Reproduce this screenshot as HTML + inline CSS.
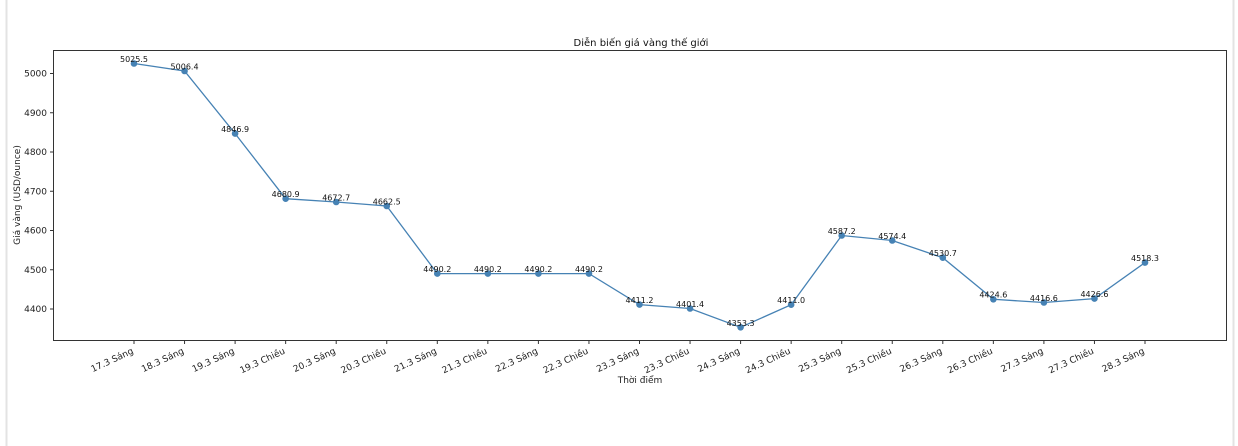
<!DOCTYPE html>
<html><head><meta charset="utf-8"><style>
html,body{margin:0;padding:0;background:#fff;width:1238px;height:446px;overflow:hidden}
svg{display:block;font-family:"DejaVu Sans","Liberation Sans",sans-serif}
</style></head><body>
<svg width="1238" height="446" viewBox="0 0 1238 446" xmlns="http://www.w3.org/2000/svg">
<rect x="0" y="0" width="1238" height="446" fill="#fff"/>
<line x1="6.5" y1="0" x2="6.5" y2="446" stroke="#e3e3e3" stroke-width="2"/>
<line x1="1233.5" y1="0" x2="1233.5" y2="446" stroke="#e3e3e3" stroke-width="2"/>
<text x="641" y="46" font-size="10" text-anchor="middle" fill="#111">Diễn biến giá vàng thế giới</text>
<rect x="53.5" y="50.5" width="1173" height="290" fill="none" stroke="#333" stroke-width="1"/>
<g font-size="9" fill="#222" text-anchor="end">
<line x1="50" y1="309" x2="53" y2="309" stroke="#333"/><text x="47" y="312">4400</text>
<line x1="50" y1="269.75" x2="53" y2="269.75" stroke="#333"/><text x="47" y="272.75">4500</text>
<line x1="50" y1="230.5" x2="53" y2="230.5" stroke="#333"/><text x="47" y="233.5">4600</text>
<line x1="50" y1="191.25" x2="53" y2="191.25" stroke="#333"/><text x="47" y="194.25">4700</text>
<line x1="50" y1="152" x2="53" y2="152" stroke="#333"/><text x="47" y="155">4800</text>
<line x1="50" y1="112.75" x2="53" y2="112.75" stroke="#333"/><text x="47" y="115.75">4900</text>
<line x1="50" y1="73.5" x2="53" y2="73.5" stroke="#333"/><text x="47" y="76.5">5000</text>
</g>
<text transform="translate(20,195) rotate(-90)" font-size="9" text-anchor="middle" fill="#222">Giá vàng (USD/ounce)</text>
<text x="640" y="383" font-size="9" text-anchor="middle" fill="#222">Thời điểm</text>
<g stroke="#333">
<line x1="134" y1="340" x2="134" y2="344"/><line x1="184.55" y1="340" x2="184.55" y2="344"/><line x1="235.1" y1="340" x2="235.1" y2="344"/><line x1="285.65" y1="340" x2="285.65" y2="344"/><line x1="336.2" y1="340" x2="336.2" y2="344"/><line x1="386.75" y1="340" x2="386.75" y2="344"/><line x1="437.3" y1="340" x2="437.3" y2="344"/><line x1="487.85" y1="340" x2="487.85" y2="344"/><line x1="538.4" y1="340" x2="538.4" y2="344"/><line x1="588.95" y1="340" x2="588.95" y2="344"/><line x1="639.5" y1="340" x2="639.5" y2="344"/><line x1="690.05" y1="340" x2="690.05" y2="344"/><line x1="740.6" y1="340" x2="740.6" y2="344"/><line x1="791.15" y1="340" x2="791.15" y2="344"/><line x1="841.7" y1="340" x2="841.7" y2="344"/><line x1="892.25" y1="340" x2="892.25" y2="344"/><line x1="942.8" y1="340" x2="942.8" y2="344"/><line x1="993.35" y1="340" x2="993.35" y2="344"/><line x1="1043.9" y1="340" x2="1043.9" y2="344"/><line x1="1094.45" y1="340" x2="1094.45" y2="344"/><line x1="1145" y1="340" x2="1145" y2="344"/>
</g>
<g font-size="9" fill="#222" text-anchor="end">
<text transform="translate(134,353) rotate(-25)">17.3 Sáng</text>
<text transform="translate(184.55,353) rotate(-25)">18.3 Sáng</text>
<text transform="translate(235.1,353) rotate(-25)">19.3 Sáng</text>
<text transform="translate(285.65,353) rotate(-25)">19.3 Chiều</text>
<text transform="translate(336.2,353) rotate(-25)">20.3 Sáng</text>
<text transform="translate(386.75,353) rotate(-25)">20.3 Chiều</text>
<text transform="translate(437.3,353) rotate(-25)">21.3 Sáng</text>
<text transform="translate(487.85,353) rotate(-25)">21.3 Chiều</text>
<text transform="translate(538.4,353) rotate(-25)">22.3 Sáng</text>
<text transform="translate(588.95,353) rotate(-25)">22.3 Chiều</text>
<text transform="translate(639.5,353) rotate(-25)">23.3 Sáng</text>
<text transform="translate(690.05,353) rotate(-25)">23.3 Chiều</text>
<text transform="translate(740.6,353) rotate(-25)">24.3 Sáng</text>
<text transform="translate(791.15,353) rotate(-25)">24.3 Chiều</text>
<text transform="translate(841.7,353) rotate(-25)">25.3 Sáng</text>
<text transform="translate(892.25,353) rotate(-25)">25.3 Chiều</text>
<text transform="translate(942.8,353) rotate(-25)">26.3 Sáng</text>
<text transform="translate(993.35,353) rotate(-25)">26.3 Chiều</text>
<text transform="translate(1043.9,353) rotate(-25)">27.3 Sáng</text>
<text transform="translate(1094.45,353) rotate(-25)">27.3 Chiều</text>
<text transform="translate(1145,353) rotate(-25)">28.3 Sáng</text>
</g>
<polyline fill="none" stroke="#4682b4" stroke-width="1.3" points="134,63.5 184.55,71 235.1,133.6 285.65,198.7 336.2,202 386.75,206 437.3,273.6 487.85,273.6 538.4,273.6 588.95,273.6 639.5,304.6 690.05,308.5 740.6,327.3 791.15,304.7 841.7,235.5 892.25,240.5 942.8,257.7 993.35,299.3 1043.9,302.5 1094.45,298.6 1145,262.6"/>
<g fill="#4682b4">
<circle cx="134" cy="63.5" r="3.3"/><circle cx="184.55" cy="71" r="3.3"/><circle cx="235.1" cy="133.6" r="3.3"/><circle cx="285.65" cy="198.7" r="3.3"/><circle cx="336.2" cy="202" r="3.3"/><circle cx="386.75" cy="206" r="3.3"/><circle cx="437.3" cy="273.6" r="3.3"/><circle cx="487.85" cy="273.6" r="3.3"/><circle cx="538.4" cy="273.6" r="3.3"/><circle cx="588.95" cy="273.6" r="3.3"/><circle cx="639.5" cy="304.6" r="3.3"/><circle cx="690.05" cy="308.5" r="3.3"/><circle cx="740.6" cy="327.3" r="3.3"/><circle cx="791.15" cy="304.7" r="3.3"/><circle cx="841.7" cy="235.5" r="3.3"/><circle cx="892.25" cy="240.5" r="3.3"/><circle cx="942.8" cy="257.7" r="3.3"/><circle cx="993.35" cy="299.3" r="3.3"/><circle cx="1043.9" cy="302.5" r="3.3"/><circle cx="1094.45" cy="298.6" r="3.3"/><circle cx="1145" cy="262.6" r="3.3"/>
</g>
<g font-size="8" fill="#111" text-anchor="middle">
<text x="134" y="62">5025.5</text><text x="184.55" y="69.5">5006.4</text><text x="235.1" y="132">4846.9</text><text x="285.65" y="197">4680.9</text><text x="336.2" y="200.5">4672.7</text><text x="386.75" y="204.5">4662.5</text><text x="437.3" y="272">4490.2</text><text x="487.85" y="272">4490.2</text><text x="538.4" y="272">4490.2</text><text x="588.95" y="272">4490.2</text><text x="639.5" y="303">4411.2</text><text x="690.05" y="307">4401.4</text><text x="740.6" y="326">4353.3</text><text x="791.15" y="303">4411.0</text><text x="841.7" y="234">4587.2</text><text x="892.25" y="239">4574.4</text><text x="942.8" y="256">4530.7</text><text x="993.35" y="297.5">4424.6</text><text x="1043.9" y="301">4416.6</text><text x="1094.45" y="297">4426.6</text><text x="1145" y="261">4518.3</text>
</g>
</svg>
</body></html>
